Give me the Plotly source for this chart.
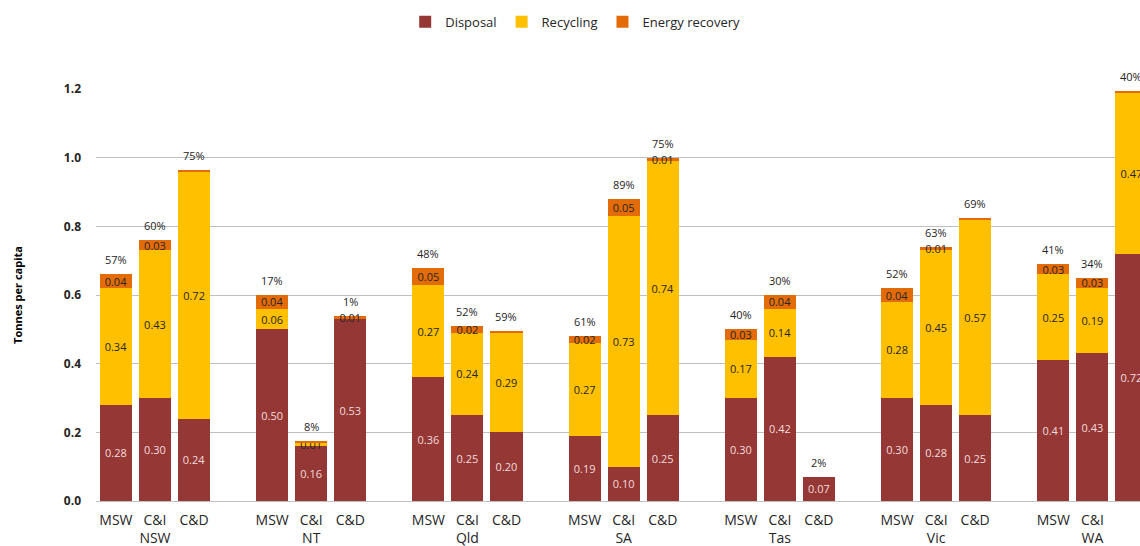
import plotly.graph_objects as go

states = ["NSW", "NT", "Qld", "SA", "Tas", "Vic", "WA"]
streams = ["MSW", "C&I", "C&D"]

# values per state, in order MSW, C&I, C&D
disposal = [
    [0.28, 0.30, 0.24],
    [0.50, 0.16, 0.53],
    [0.36, 0.25, 0.20],
    [0.19, 0.10, 0.25],
    [0.30, 0.42, 0.07],
    [0.30, 0.28, 0.25],
    [0.41, 0.43, 0.72],
]
recycling = [
    [0.34, 0.43, 0.72],
    [0.06, 0.01, 0.00],
    [0.27, 0.24, 0.29],
    [0.27, 0.73, 0.74],
    [0.17, 0.14, 0.00],
    [0.28, 0.45, 0.57],
    [0.25, 0.19, 0.47],
]
energy = [
    [0.04, 0.03, 0.004],
    [0.04, 0.005, 0.01],
    [0.05, 0.02, 0.004],
    [0.02, 0.05, 0.01],
    [0.03, 0.04, 0.00],
    [0.04, 0.01, 0.004],
    [0.03, 0.03, 0.005],
]
recovery_pct = [
    ["57%", "60%", "75%"],
    ["17%", "8%", "1%"],
    ["48%", "52%", "59%"],
    ["61%", "89%", "75%"],
    ["40%", "30%", "2%"],
    ["52%", "63%", "69%"],
    ["41%", "34%", "40%"],
]

SLOTS = 4  # three bars + one empty slot per state
xs, d, r, e, pct, = [], [], [], [], []
tickvals, ticktext = [], []
for gi, st in enumerate(states):
    for j, s in enumerate(streams):
        x = gi * SLOTS + j
        xs.append(x)
        d.append(disposal[gi][j])
        r.append(recycling[gi][j])
        e.append(energy[gi][j])
        pct.append(recovery_pct[gi][j])
        tickvals.append(x)
        ticktext.append(f"{s}<br>{st}" if j == 1 else s)


def lbl(vals):
    return [f"{v:.2f}" if v >= 0.0095 else "" for v in vals]


FONT = "Open Sans"
fig = go.Figure()
fig.add_trace(go.Bar(
    x=xs, y=d, name="Disposal", marker=dict(color="#953735", line=dict(width=0)),
    text=lbl(d), textposition="inside", insidetextanchor="middle", constraintext="none",
    textfont=dict(family=FONT, size=11, color="#f2dcdb"),
))
fig.add_trace(go.Bar(
    x=xs, y=r, name="Recycling", marker=dict(color="#FFC000", line=dict(width=0)),
    text=lbl(r), textposition="inside", insidetextanchor="middle", constraintext="none",
    textfont=dict(family=FONT, size=11, color="#262626"),
))
fig.add_trace(go.Bar(
    x=xs, y=e, name="Energy recovery", marker=dict(color="#E36C09", line=dict(width=0)),
    text=lbl(e), textposition="inside", insidetextanchor="middle", constraintext="none",
    textfont=dict(family=FONT, size=11, color="#262626"),
))

for x, a, b, c, p in zip(xs, d, r, e, pct):
    fig.add_annotation(
        x=x, y=a + b + c, text=p, showarrow=False, yanchor="bottom", yshift=5,
        font=dict(family=FONT, size=11, color="#262626"),
    )

fig.update_layout(
    width=1140, height=546,
    barmode="stack", bargap=0.18,
    plot_bgcolor="white", paper_bgcolor="white",
    margin=dict(l=96, r=0, t=89, b=45, autoexpand=False),
    font=dict(family=FONT, color="#262626"),
    legend=dict(
        orientation="h", x=0.459, xanchor="center", y=1.163, yanchor="middle",
        font=dict(family=FONT, size=13, color="#262626"), traceorder="normal",
    ),
    showlegend=True,
)
fig.update_xaxes(
    range=[-0.51, 26.22], tickvals=tickvals, ticktext=ticktext,
    showgrid=False, zeroline=False, showline=False, ticks="",
    ticklabelstandoff=9, automargin=False,
    tickfont=dict(family=FONT, size=14, color="#262626"),
)
fig.update_yaxes(
    range=[0, 1.2], dtick=0.2, tickformat=".1f",
    showgrid=True, gridcolor="#bfbfbf", gridwidth=1,
    zeroline=True, zerolinecolor="#bfbfbf", zerolinewidth=1,
    showline=False, ticks="", ticklabelstandoff=14, automargin=False,
    tickfont=dict(family=FONT, size=12, color="#262626", weight="bold"),
    title=dict(text="Tonnes per capita", standoff=38,
               font=dict(family=FONT, size=11, color="#000000", weight="bold")),
)

fig.write_html("out.html")
